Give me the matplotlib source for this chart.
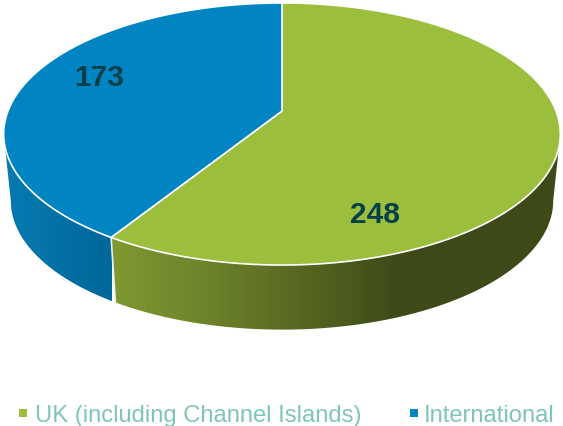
import numpy as np
import matplotlib
matplotlib.use('Agg')
import matplotlib.pyplot as plt
from matplotlib.colors import LinearSegmentedColormap
from matplotlib.patches import Polygon

plt.rcParams['font.family'] = ['Liberation Sans', 'DejaVu Sans']

categories = ['UK (including Channel Islands)', 'International']
values = [248, 173]
top_colors = ['#9bbe3c', '#0084c2']
wall_colors = [['#7f9a32', '#6b8029', '#3d4a17', '#3d4a17'], ['#0678ae', '#0678ae', '#00699b', '#00699b']]
wall_stops = [[110, 215, 400, 560], [0, 20, 100, 112]]

# perspective of the pie, in pixels
cx = 282
cy = 112
k = 0.1756
rx = 274
ry = 127
rx_low = 267
ry_low = 125
depth = 67


def rim(theta, x_rad, y_rad, y0):
    t = np.radians(theta)
    u = np.sin(t)
    v = -np.cos(t)
    s = 1 / (1 - k * v)
    return np.column_stack([cx + x_rad * u * s, y0 + y_rad * v * s])


fig = plt.figure(figsize=(5.63, 4.27), dpi=100)
ax = fig.add_axes([0, 0, 1, 1])
ax.set_xlim(0, 563)
ax.set_ylim(427, 0)
ax.axis('off')

edges = np.cumsum([0] + values) * 360.0 / sum(values)
tangent_r = np.degrees(np.arccos(-k))
tangent_l = 360 - tangent_r

# side walls
wall_from = [tangent_r, edges[1]]
wall_to = [edges[1], tangent_l]
for i in range(len(values)):
    th = np.linspace(wall_from[i], wall_to[i], 150)
    up = rim(th, rx, ry, cy)
    low = rim(th, rx_low, ry_low, cy + depth)
    pts = np.vstack([up, low[::-1]])
    patch = Polygon(pts, closed=True, fc='none', ec='none')
    ax.add_patch(patch)
    lo, hi = wall_stops[i][0], wall_stops[i][-1]
    stops = [(s - lo) / (hi - lo) for s in wall_stops[i]]
    cmap = LinearSegmentedColormap.from_list('wall', list(zip(stops, wall_colors[i])))
    grad = np.linspace(0, 1, 256).reshape(1, -1)
    im = ax.imshow(grad, cmap=cmap, extent=[lo, hi, 427, 0], aspect='auto', zorder=1)
    im.set_clip_path(patch)

# white seam between the walls
seam = np.vstack([rim(edges[1], rx, ry, cy), rim(edges[1], rx_low, ry_low, cy + depth)])
ax.plot(seam[:, 0], seam[:, 1], color='#e8f0f0', lw=1.2, zorder=2)

# top face
for i in range(len(values)):
    th = np.linspace(edges[i], edges[i + 1], 200)
    pts = np.vstack([[cx, cy], rim(th, rx, ry, cy)])
    ax.add_patch(Polygon(pts, closed=True, fc=top_colors[i], ec='white', lw=1.2, zorder=3))

# data labels
label_pos = [(375, 215), (99, 78)]
for val, pos in zip(values, label_pos):
    ax.text(pos[0], pos[1], str(val), fontsize=21.5, fontweight='bold', color='#063f4a',
            ha='center', va='center', zorder=4)

# legend
legend_marker_x = [23, 414]
legend_text_x = [35, 424]
for i in range(len(values)):
    ax.scatter(legend_marker_x[i], 413.5, marker='s', s=26, color=top_colors[i], linewidths=0)
    ax.text(legend_text_x[i], 416, categories[i], fontsize=17.1, color='#80c5b9', ha='left', va='center')

ax.set_xlim(0, 563)
ax.set_ylim(427, 0)
fig.savefig('out.png', dpi=100, facecolor='white')
